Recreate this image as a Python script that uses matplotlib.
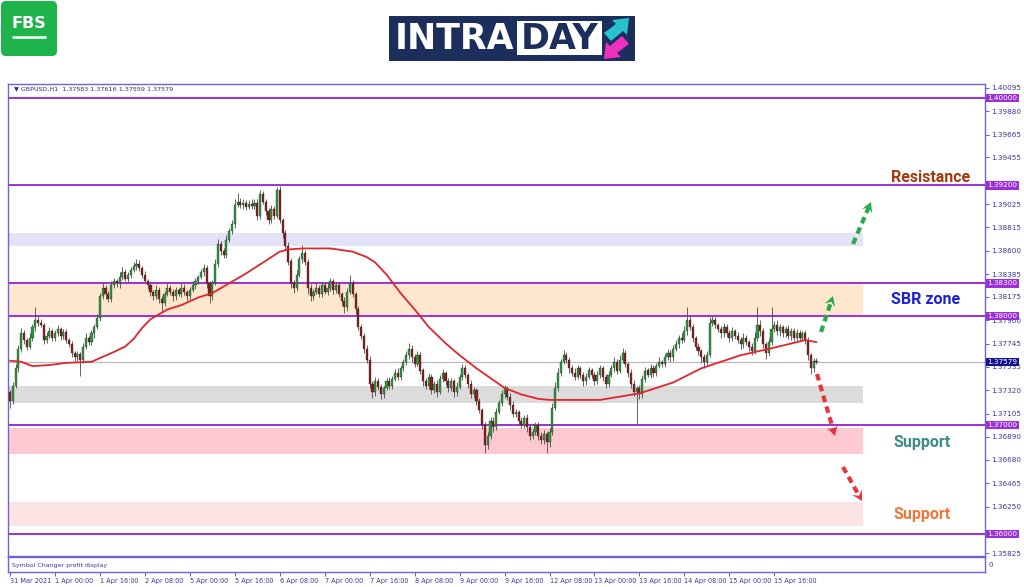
import matplotlib
matplotlib.use("Agg")
import matplotlib.pyplot as plt
from matplotlib.patches import Rectangle, FancyBboxPatch, Polygon
import matplotlib.transforms as mtrans
import numpy as np

# ---------------- data ----------------
PIP = 0.0001
first_open = 1.3730
closes = [
    1.3722, 1.3736, 1.3752, 1.3770, 1.3784, 1.3778, 1.3772, 1.3780, 1.3790, 1.3796, 1.3794, 1.3792, 1.3778, 1.3782, 1.3786, 1.3780,
    1.3784, 1.3788, 1.3782, 1.3785, 1.3778, 1.3774, 1.3766, 1.3762, 1.3765, 1.3760, 1.3772, 1.3780, 1.3776, 1.3784, 1.3790, 1.3798,
    1.3818, 1.3826, 1.3820, 1.3816, 1.3828, 1.3832, 1.3830, 1.3836, 1.3840, 1.3834, 1.3838, 1.3842, 1.3846, 1.3848, 1.3844, 1.3838,
    1.3832, 1.3828, 1.3822, 1.3818, 1.3824, 1.3816, 1.3812, 1.3820, 1.3826, 1.3822, 1.3818, 1.3824, 1.3820, 1.3826, 1.3822, 1.3818,
    1.3824, 1.3828, 1.3832, 1.3836, 1.3840, 1.3844, 1.3830, 1.3818, 1.3830, 1.3848, 1.3866, 1.3860, 1.3856, 1.3870, 1.3878, 1.3884,
    1.3902, 1.3905, 1.3902, 1.3904, 1.3900, 1.3903, 1.3901, 1.3904, 1.3892, 1.3912, 1.3905, 1.3896, 1.3888, 1.3898, 1.3892, 1.3916,
    1.3888, 1.3876, 1.3864, 1.3850, 1.3830, 1.3826, 1.3838, 1.3852, 1.3858, 1.3850, 1.3826, 1.3818, 1.3822, 1.3826, 1.3820, 1.3828,
    1.3822, 1.3826, 1.3832, 1.3824, 1.3828, 1.3820, 1.3814, 1.3808, 1.3822, 1.3830, 1.3820, 1.3806, 1.3790, 1.3782, 1.3770, 1.3760,
    1.3738, 1.3730, 1.3740, 1.3735, 1.3728, 1.3734, 1.3740, 1.3736, 1.3742, 1.3748, 1.3744, 1.3752, 1.3758, 1.3764, 1.3770, 1.3762,
    1.3756, 1.3764, 1.3750, 1.3740, 1.3736, 1.3744, 1.3732, 1.3738, 1.3730, 1.3742, 1.3748, 1.3740, 1.3734, 1.3740, 1.3730, 1.3735,
    1.3744, 1.3752, 1.3746, 1.3738, 1.3728, 1.3732, 1.3722, 1.3714, 1.3700, 1.3682, 1.3690, 1.3704, 1.3698, 1.3712, 1.3720, 1.3728,
    1.3734, 1.3726, 1.3718, 1.3710, 1.3712, 1.3704, 1.3700, 1.3706, 1.3698, 1.3690, 1.3694, 1.3700, 1.3690, 1.3686, 1.3692, 1.3684,
    1.3694, 1.3716, 1.3734, 1.3748, 1.3758, 1.3764, 1.3760, 1.3752, 1.3748, 1.3744, 1.3752, 1.3746, 1.3740, 1.3744, 1.3750, 1.3746,
    1.3740, 1.3746, 1.3752, 1.3744, 1.3738, 1.3746, 1.3752, 1.3758, 1.3750, 1.3760, 1.3766, 1.3756, 1.3748, 1.3738, 1.3730, 1.3734,
    1.3728, 1.3742, 1.3750, 1.3746, 1.3752, 1.3748, 1.3754, 1.3758, 1.3756, 1.3762, 1.3766, 1.3762, 1.3770, 1.3774, 1.3780, 1.3778,
    1.3786, 1.3796, 1.3790, 1.3780, 1.3772, 1.3768, 1.3762, 1.3758, 1.3764, 1.3794, 1.3796, 1.3792, 1.3788, 1.3784, 1.3790, 1.3784,
    1.3780, 1.3786, 1.3782, 1.3778, 1.3774, 1.3780, 1.3776, 1.3772, 1.3768, 1.3780, 1.3792, 1.3786, 1.3774, 1.3766, 1.3776, 1.3788,
    1.3792, 1.3786, 1.3790, 1.3784, 1.3788, 1.3782, 1.3786, 1.3780, 1.3784, 1.3780, 1.3784, 1.3778, 1.3764, 1.3752, 1.37583, 1.37579,
]
# upper / lower wick lengths in pips
up_wick = [
    2, 3, 4, 3, 5, 3, 2, 4, 3, 12, 4, 3, 2, 3, 4, 2,
    3, 4, 2, 3, 3, 2, 3, 2, 3, 2, 3, 4, 2, 3, 3, 4,
    3, 5, 2, 3, 4, 3, 2, 4, 5, 3, 2, 3, 4, 4, 3, 2,
    3, 2, 3, 2, 4, 3, 2, 3, 4, 2, 3, 3, 2, 4, 3, 2,
    3, 4, 3, 2, 3, 4, 3, 2, 3, 4, 5, 3, 2, 4, 3, 4,
    5, 8, 3, 3, 2, 3, 4, 3, 3, 4, 3, 2, 3, 4, 3, 2,
    3, 2, 3, 4, 3, 3, 4, 3, 7, 3, 2, 3, 3, 4, 2, 3,
    3, 4, 3, 2, 3, 3, 2, 3, 4, 8, 3, 2, 3, 3, 2, 3,
    3, 2, 4, 3, 3, 2, 3, 4, 3, 3, 4, 2, 3, 4, 5, 3,
    3, 4, 3, 2, 3, 4, 3, 2, 3, 4, 3, 2, 3, 3, 2, 4,
    3, 4, 3, 2, 3, 3, 2, 3, 2, 3, 4, 3, 3, 4, 3, 4,
    3, 2, 3, 4, 3, 2, 3, 3, 4, 3, 2, 3, 3, 4, 3, 2,
    3, 4, 5, 4, 3, 5, 3, 2, 3, 4, 3, 2, 3, 4, 3, 2,
    3, 4, 3, 2, 3, 4, 3, 4, 3, 4, 5, 3, 2, 3, 3, 2,
    3, 4, 3, 2, 4, 3, 3, 4, 2, 3, 4, 3, 3, 4, 3, 4,
    5, 12, 4, 3, 2, 3, 2, 3, 4, 5, 4, 3, 2, 3, 4, 3,
    3, 4, 2, 3, 3, 4, 3, 2, 3, 5, 16, 4, 3, 2, 4, 20,
    3, 4, 3, 2, 3, 4, 3, 3, 4, 3, 2, 3, 3, 2, 3, 3,
]
down_wick = [
    6, 3, 2, 3, 3, 4, 3, 2, 3, 4, 3, 2, 4, 3, 2, 3,
    3, 2, 4, 3, 3, 2, 4, 3, 3, 15, 3, 2, 3, 3, 4, 2,
    3, 2, 4, 3, 3, 2, 3, 4, 3, 2, 3, 3, 2, 4, 3, 3,
    2, 3, 4, 3, 2, 4, 7, 3, 2, 3, 4, 3, 2, 3, 3, 4,
    3, 2, 3, 3, 2, 3, 4, 6, 3, 2, 3, 4, 3, 3, 2, 3,
    3, 2, 3, 4, 3, 2, 3, 3, 4, 3, 2, 3, 4, 3, 3, 2,
    3, 4, 3, 3, 4, 5, 3, 2, 3, 3, 6, 4, 3, 2, 3, 3,
    2, 3, 3, 4, 3, 3, 4, 5, 3, 2, 3, 4, 3, 3, 4, 3,
    4, 5, 3, 3, 4, 3, 2, 3, 3, 2, 3, 3, 2, 3, 3, 4,
    3, 2, 3, 4, 3, 3, 4, 3, 4, 2, 3, 3, 4, 3, 4, 3,
    2, 3, 3, 4, 3, 3, 4, 3, 4, 8, 4, 3, 4, 3, 2, 3,
    3, 3, 4, 3, 3, 4, 3, 3, 4, 4, 3, 3, 4, 3, 3, 10,
    4, 3, 2, 3, 3, 2, 3, 4, 3, 3, 2, 3, 4, 3, 2, 3,
    3, 2, 3, 4, 4, 3, 2, 3, 3, 2, 3, 3, 4, 4, 3, 30,
    4, 3, 3, 2, 3, 4, 3, 2, 3, 3, 2, 4, 3, 2, 3, 3,
    2, 3, 3, 4, 3, 4, 5, 6, 3, 2, 3, 3, 3, 4, 3, 3,
    4, 3, 3, 3, 4, 3, 3, 4, 4, 3, 3, 4, 3, 5, 3, 3,
    3, 3, 4, 3, 3, 3, 4, 3, 3, 3, 3, 4, 4, 5, 3, 2,
]
# moving average (candle index, value)
ma_idx = [0, 4, 8, 14, 20, 29, 37, 41, 44, 47, 50, 56, 61, 67, 72, 78, 84, 90, 96, 99, 104, 114, 122, 127,
          130, 134, 139, 144, 149, 155, 160, 166, 171, 176, 182, 188, 192, 210, 224, 236, 246, 260, 272,
          280, 283, 287]
ma_val = [1.3759, 1.3758, 1.3754, 1.3755, 1.3757, 1.3758, 1.3767, 1.3772, 1.3779, 1.3789, 1.3797, 1.3806,
          1.3810, 1.3817, 1.3821, 1.3830, 1.3839, 1.3849, 1.3859, 1.3861, 1.3862, 1.3862, 1.3859, 1.3854,
          1.3849, 1.3838, 1.3821, 1.3806, 1.3790, 1.3775, 1.3764, 1.3752, 1.3743, 1.3734, 1.3728, 1.3724,
          1.3723, 1.3723, 1.3729, 1.3739, 1.3752, 1.3764, 1.3771, 1.3776, 1.3778, 1.3776]

x_labels = ['31 Mar 2021', '1 Apr 00:00', '1 Apr 16:00', '2 Apr 08:00', '5 Apr 00:00', '5 Apr 16:00',
            '6 Apr 08:00', '7 Apr 00:00', '7 Apr 16:00', '8 Apr 08:00', '9 Apr 00:00', '9 Apr 16:00',
            '12 Apr 08:00', '13 Apr 00:00', '13 Apr 16:00', '14 Apr 08:00', '15 Apr 00:00', '15 Apr 16:00']
x_tick_idx = [0, 16, 32, 48, 64, 80, 96, 112, 128, 144, 160, 176, 192, 208, 224, 240, 256, 272]

y_ticks = [1.40095, 1.39880, 1.39665, 1.39455, 1.39240, 1.39025, 1.38815, 1.38600, 1.38385, 1.38175,
           1.37960, 1.37745, 1.37535, 1.37320, 1.37105, 1.36890, 1.36680, 1.36465, 1.36250, 1.36040, 1.35825]
hidden_ticks = [1.39240, 1.36040]   # covered by the level badges
levels = [1.40000, 1.39200, 1.38300, 1.38000, 1.37000, 1.36000]
current_price = 1.37579
zones = [(1.3864, 1.3876, '#e3e3f7'), (1.3800, 1.3830, '#fde8cf'), (1.3720, 1.3736, '#dcdcdc'),
         (1.3673, 1.3697, '#ffc9d1'), (1.3607, 1.3629, '#fde4e4')]
header = '\u25BC GBPUSD,H1  1.37583 1.37616 1.37559 1.37579'

# ---------------- figure ----------------
W, H = 1024, 587
fig = plt.figure(figsize=(W / 100, H / 100), dpi=100)
fig.patch.set_facecolor('white')

def fbox(l, t, r, b):
    return [l / W, 1 - b / H, (r - l) / W, (b - t) / H]

X0, DX = 10.0, 2.81          # pixel of candle 0, pixels per candle
Y0, DY = 98.0, 10900.0       # pixel of 1.40000, pixels per price unit

def px2d(px, py):
    return (px - X0) / DX, 1.40 - (py - Y0) / DY

AX_L, AX_T, AX_R, AX_B = 8, 84, 985, 556
ax = fig.add_axes(fbox(AX_L, AX_T, AX_R, AX_B))
ax.set_xlim(px2d(AX_L, 0)[0], px2d(AX_R, 0)[0])
ax.set_ylim(px2d(0, AX_B)[1], px2d(0, AX_T)[1])
frame_col = '#6f63d8'
for s in ax.spines.values():
    s.set_color(frame_col)
    s.set_linewidth(1.0)

n = len(closes)
idx = np.arange(n)
closes_a = np.array(closes)
opens_a = np.array([first_open] + closes[:-1])
tops = np.maximum(opens_a, closes_a)
bots = np.minimum(opens_a, closes_a)
highs = tops + np.array(up_wick) * PIP
lows = bots - np.array(down_wick) * PIP

# zones
zone_right = px2d(863, 0)[0]
zone_left = px2d(AX_L, 0)[0]
for lo, hi, c in zones:
    ax.add_patch(Rectangle((zone_left, lo), zone_right - zone_left, hi - lo, facecolor=c,
                           edgecolor='none', zorder=0))

# levels
for lv in levels:
    ax.axhline(lv, color='#9b30d9', lw=1.4, zorder=2)
ax.axhline(current_price, color='#b9b9b9', lw=0.9, zorder=1)

# candles
bull = closes_a >= opens_a
ax.vlines(idx, lows, highs, color='#4a4a4a', lw=0.6, zorder=3)
body_h = np.maximum(tops - bots, 0.00003)
ax.bar(idx, body_h, bottom=bots, width=0.75,
       color=np.where(bull, '#2c9a3c', '#8a1c1c'), edgecolor='#2a2a2a', linewidth=0.25, zorder=4)

# moving average
ax.plot(ma_idx, ma_val, color='#e0262a', lw=1.3, zorder=5, solid_capstyle='round',
        solid_joinstyle='round')

# header
ax.text(0.006, 0.989, header, transform=ax.transAxes, fontsize=4.6, color='#2b2b9a',
        va='center', ha='left', family='DejaVu Sans', zorder=6)

# right axis
ax.yaxis.tick_right()
ax.set_yticks(y_ticks)
ax.set_yticklabels(['' if v in hidden_ticks else f'{v:.5f}' for v in y_ticks])
ax.tick_params(axis='y', labelsize=5.2, labelcolor='#3636a8', color=frame_col, length=3, width=0.8, pad=1.5)
ax.set_xticks([])
for lab in ax.get_yticklabels():
    lab.set_family('DejaVu Sans')

trans = mtrans.blended_transform_factory(ax.transAxes, ax.transData)
for lv in levels:
    ax.text(1.0025, lv, f'{lv:.5f}', transform=trans, fontsize=5.2, color='white', va='center',
            ha='left', clip_on=False, zorder=10,
            bbox=dict(boxstyle='square,pad=0.18', fc='#9b30d9', ec='none'))
ax.text(1.0025, current_price, f'{current_price:.5f}', transform=trans, fontsize=5.2, color='white',
        va='center', ha='left', clip_on=False, zorder=10,
        bbox=dict(boxstyle='square,pad=0.18', fc='#12128e', ec='none'))

# dashed arrows
def dashed_arrow(p0, p1, color):
    p0 = np.array(p0, float)
    p1 = np.array(p1, float)
    d = p1 - p0
    L = np.hypot(*d)
    u = d / L
    nrm = np.array([-u[1], u[0]])
    shaft_end = p1 - u * 6
    xs, ys = zip(px2d(*p0), px2d(*shaft_end))
    ax.plot(xs, ys, color=color, lw=3.0, ls=(0, (1.6, 1.1)), solid_capstyle='butt',
            dash_capstyle='butt', zorder=7)
    tip = p1
    back = p1 - u * 10
    notch = p1 - u * 6
    pts = [tip, back + nrm * 5.5, notch, back - nrm * 5.5]
    ax.add_patch(Polygon([px2d(*p) for p in pts], closed=True, facecolor=color, edgecolor='none', zorder=7))

dashed_arrow((853, 244), (871, 202), '#2aa84a')
dashed_arrow((821, 332), (833, 296), '#2aa84a')
dashed_arrow((817, 374), (835, 436), '#e8343a')
dashed_arrow((843, 467), (862, 501), '#e8343a')

# zone labels
def label(px, py, s, c):
    x, y = px2d(px, py)
    ax.text(x, y, s, fontsize=11.5, fontweight='bold', color=c, ha='center', va='center',
            family='Roboto', zorder=8)

label(931, 177, 'Resistance', '#a4380e')
label(926, 300, 'SBR zone', '#1d22d6')
label(922, 442, 'Support', '#3b8d85')
label(922, 515, 'Support', '#f0773a')

# sub window + time axis
ax2 = fig.add_axes(fbox(AX_L, 557, AX_R, 572))
ax2.set_xlim(ax.get_xlim())
ax2.set_ylim(0, 1)
for s in ax2.spines.values():
    s.set_color(frame_col)
    s.set_linewidth(1.0)
ax2.set_yticks([])
ax2.set_xticks(x_tick_idx)
ax2.set_xticklabels(x_labels, ha='left')
ax2.tick_params(axis='x', labelsize=4.7, labelcolor='#3636a8', color=frame_col, length=3, width=0.8, pad=1)
for lab in ax2.get_xticklabels():
    lab.set_family('DejaVu Sans')
ax2.text(0.004, 0.45, 'Symbol Changer profit display', transform=ax2.transAxes, fontsize=4.5,
         color='#3636a8', va='center', ha='left')
ax2.text(1.004, 0.45, '0', transform=ax2.transAxes, fontsize=5, color='#3636a8', va='center', ha='left')

# ---------------- logos (overlay in pixel space) ----------------
ov = fig.add_axes([0, 0, 1, 1], zorder=-1)
ov.set_xlim(0, W)
ov.set_ylim(H, 0)
ov.axis('off')
ov.add_patch(FancyBboxPatch((1, 1), 56, 55, boxstyle='round,pad=0,rounding_size=5',
                            facecolor='#1fb34b', edgecolor='none'))
ov.text(28.5, 24, 'FBS', fontsize=11.5, fontweight='bold', color='white', ha='center', va='center',
        family='DejaVu Sans')
ov.plot([12, 46], [36.5, 36.5], color='white', lw=1.8, solid_capstyle='butt')

ov.add_patch(Rectangle((389, 16), 246, 45, facecolor='#1b2e5c', edgecolor='none'))
ov.add_patch(Rectangle((517, 21), 85, 34, facecolor='white', edgecolor='none'))
ov.text(455, 39, 'INTRA', fontsize=25, fontweight='bold', color='white', ha='center', va='center',
        family='DejaVu Sans')
ov.text(559.5, 39, 'DAY', fontsize=25, fontweight='bold', color='#1b2e5c', ha='center', va='center',
        family='DejaVu Sans')
ov.add_patch(Polygon([(604, 33), (616, 24), (612, 20), (629, 18), (627, 35), (623, 31), (611, 41)],
                     closed=True, facecolor='#27c3cf', edgecolor='none'))
ov.add_patch(Polygon([(629, 44), (617, 53), (621, 57), (604, 59), (606, 42), (610, 46), (622, 36)],
                     closed=True, facecolor='#ee2fc0', edgecolor='none'))

fig.savefig('out.png', dpi=100, facecolor='white')
